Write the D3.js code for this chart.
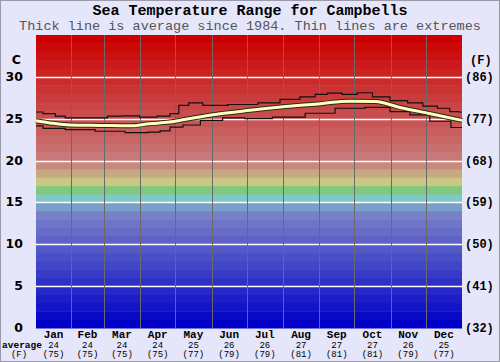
<!DOCTYPE html>
<html>
<head>
<meta charset="utf-8">
<script src="https://cdn.jsdelivr.net/npm/d3@7"></script>
<style>
	body { margin: 0; background: #e6e6fa; }
	svg { display: block; }
</style>
</head>
<body>
<svg id="chart" width="500" height="362"></svg>
<script>
// month names and the rounded averages printed under them
const months = ["Jan", "Feb", "Mar", "Apr", "May", "Jun", "Jul", "Aug", "Sep", "Oct", "Nov", "Dec"];
const monthAvgC = [24, 24, 24, 24, 25, 26, 26, 27, 27, 27, 26, 25];
const monthAvgF = [75, 75, 75, 75, 77, 79, 79, 81, 81, 81, 79, 77];
const monthEndDay = [31, 59, 90, 120, 151, 181, 212, 243, 273, 304, 334, 365];

// temperature ticks (C) and their F labels
const tickC = [0, 5, 10, 15, 20, 25, 30];
const tickF = ["(32)", "(41)", "(50)", "(59)", "(68)", "(77)", "(86)"];

// [day of year, deg C]
const avgLine = [
	[1, 24.75], [13, 24.5], [30, 24.25], [56, 24.2], [81, 24.15], [98, 24.4],
	[115, 24.6], [128, 24.9], [154, 25.5], [184, 26.0], [214, 26.45],
	[244, 26.8], [269, 27.1], [291, 27.05], [312, 26.35], [338, 25.6], [365, 24.8]
];
const maxLine = [
	[1, 25.8], [13, 25.6], [22, 25.3], [30, 25.1], [56, 25.1], [68, 25.3],
	[81, 25.35], [98, 25.2], [111, 25.3], [120, 25.6], [126, 26.6], [137, 26.9],
	[150, 26.6], [180, 26.7], [201, 26.9], [218, 27.3], [235, 27.6], [244, 27.9],
	[256, 28.05], [269, 27.9], [282, 28.1], [295, 27.6], [312, 27.15],
	[325, 26.9], [338, 26.5], [350, 26.25], [359, 25.85], [365, 25.8]
];
const minLine = [
	[1, 24.15], [13, 23.85], [39, 23.7], [64, 23.5], [90, 23.35], [103, 23.4],
	[111, 23.55], [120, 24.0], [133, 24.25], [150, 24.8], [171, 25.1],
	[188, 25.0], [218, 25.2], [244, 25.65], [269, 26.25], [295, 26.35],
	[312, 25.85], [329, 25.45], [346, 24.7], [365, 23.95]
];

const svg = d3.select("#chart");
const width = +svg.attr("width");
const height = +svg.attr("height");

const margin = { top: 35, right: 38, bottom: 34, left: 36 };
const x0 = margin.left, x1 = width - margin.right;
const y0 = height - margin.bottom, y1 = margin.top;

const xScale = d3.scaleLinear().domain([1, 365]).range([x0, x1]);
const yScale = d3.scaleLinear().domain([0, 35]).range([y0, y1]);

const mono = "'Liberation Mono', 'DejaVu Sans Mono', monospace";

// page frame
svg.append("rect")
	.attr("x", 0.5).attr("y", 0.5)
	.attr("width", width - 1).attr("height", height - 1)
	.attr("fill", "#e6e6fa")
	.attr("stroke", "#9a9aaa");

// colour bands, one per degree
const warm = d3.interpolateRgb("#c87878", "#cc0000");
const cool = d3.interpolateRgb("#0000c8", "#7880c8");
const midBands = { 19: "#c88a7c", 18: "#c8a880", 17: "#c8c880", 16: "#80c880", 15: "#80c8c8", 14: "#78a0c8" };
function bandColor(i) {
	if (i >= 20) return warm((i - 20) / 14);
	if (midBands[i]) return midBands[i];
	return cool(i / 13);
}
svg.append("g")
	.selectAll("rect")
	.data(d3.range(0, 35))
	.join("rect")
	.attr("x", x0)
	.attr("width", x1 - x0)
	.attr("y", (d) => yScale(d + 1))
	.attr("height", (d) => yScale(d) - yScale(d + 1) + 0.5)
	.attr("fill", (d) => bandColor(d));

// horizontal white grid
svg.append("g")
	.selectAll("line")
	.data(tickC.filter((d) => d > 0))
	.join("line")
	.attr("x1", x0).attr("x2", x1)
	.attr("y1", (d) => Math.round(yScale(d)) + 0.5)
	.attr("y2", (d) => Math.round(yScale(d)) + 0.5)
	.attr("stroke", "white")
	.attr("stroke-width", 1.5);

// month separators
svg.append("g")
	.selectAll("line")
	.data(monthEndDay.slice(0, 11))
	.join("line")
	.attr("x1", (d) => Math.round(xScale(d)) + 0.5)
	.attr("x2", (d) => Math.round(xScale(d)) + 0.5)
	.attr("y1", y1).attr("y2", y0)
	.attr("stroke", "#6a6a6a")
	.attr("stroke-width", 1);

// thin extreme lines
const stepLine = d3.line()
	.x((d) => xScale(d[0]))
	.y((d) => yScale(d[1]))
	.curve(d3.curveStep);

[maxLine, minLine].forEach((data) => {
	svg.append("path")
		.datum(data)
		.attr("fill", "none")
		.attr("stroke", "#111")
		.attr("stroke-width", 1.2)
		.attr("d", stepLine);
});

// thick average line: dark edge with pale yellow core
const avgPath = d3.line()
	.x((d) => xScale(d[0]))
	.y((d) => yScale(d[1]))
	.curve(d3.curveMonotoneX);

svg.append("path")
	.datum(avgLine)
	.attr("fill", "none")
	.attr("stroke", "#2a2a18")
	.attr("stroke-width", 5)
	.attr("d", avgPath);
svg.append("path")
	.datum(avgLine)
	.attr("fill", "none")
	.attr("stroke", "#ffffc0")
	.attr("stroke-width", 3)
	.attr("d", avgPath);

// title + subtitle
svg.append("text")
	.attr("x", width / 2).attr("y", 15)
	.attr("text-anchor", "middle")
	.style("font-family", mono)
	.style("font-weight", "bold")
	.style("font-size", "15px")
	.text("Sea Temperature Range for Campbells");

svg.append("text")
	.attr("x", width / 2).attr("y", 30)
	.attr("text-anchor", "middle")
	.style("font-family", mono)
	.style("font-size", "13.5px")
	.style("fill", "#555")
	.text("Thick line is average since 1984. Thin lines are extremes");

// left axis (C)
const left = svg.append("g")
	.style("font-family", "'DejaVu Sans', Verdana, sans-serif")
	.style("font-weight", "bold")
	.style("font-size", "12.5px");
left.selectAll("text")
	.data(tickC)
	.join("text")
	.attr("x", 23)
	.attr("y", (d) => yScale(d) + 4)
	.attr("text-anchor", "end")
	.text((d) => d);
left.append("text")
	.attr("x", 21).attr("y", 64)
	.attr("text-anchor", "end")
	.text("C");

// right axis (F)
const right = svg.append("g")
	.style("font-family", mono)
	.style("font-weight", "bold")
	.style("font-size", "12px");
right.selectAll("text")
	.data(tickC)
	.join("text")
	.attr("x", 465)
	.attr("y", (d) => yScale(d) + 4)
	.text((d, i) => tickF[i]);
right.append("text")
	.attr("x", 470).attr("y", 64)
	.text("(F)");

// month labels
const bottom = svg.append("g")
	.style("font-family", mono)
	.style("font-weight", "bold")
	.attr("text-anchor", "middle");
months.forEach((m, i) => {
	const start = i === 0 ? 1 : monthEndDay[i - 1];
	const cx = (xScale(start) + xScale(monthEndDay[i])) / 2;
	bottom.append("text").attr("x", cx).attr("y", 338)
		.style("font-size", "11px").text(m);
	bottom.append("text").attr("x", cx).attr("y", 347.5)
		.style("font-size", "9px").style("font-weight", "normal").text(monthAvgC[i]);
	bottom.append("text").attr("x", cx).attr("y", 357)
		.style("font-size", "9px").style("font-weight", "normal").text("(" + monthAvgF[i] + ")");
});
bottom.append("text").attr("x", 22).attr("y", 347.5)
	.style("font-size", "9.5px").text("average");
bottom.append("text").attr("x", 19).attr("y", 357)
	.style("font-size", "9px").style("font-weight", "normal").text("(F)");
</script>
</body>
</html>
